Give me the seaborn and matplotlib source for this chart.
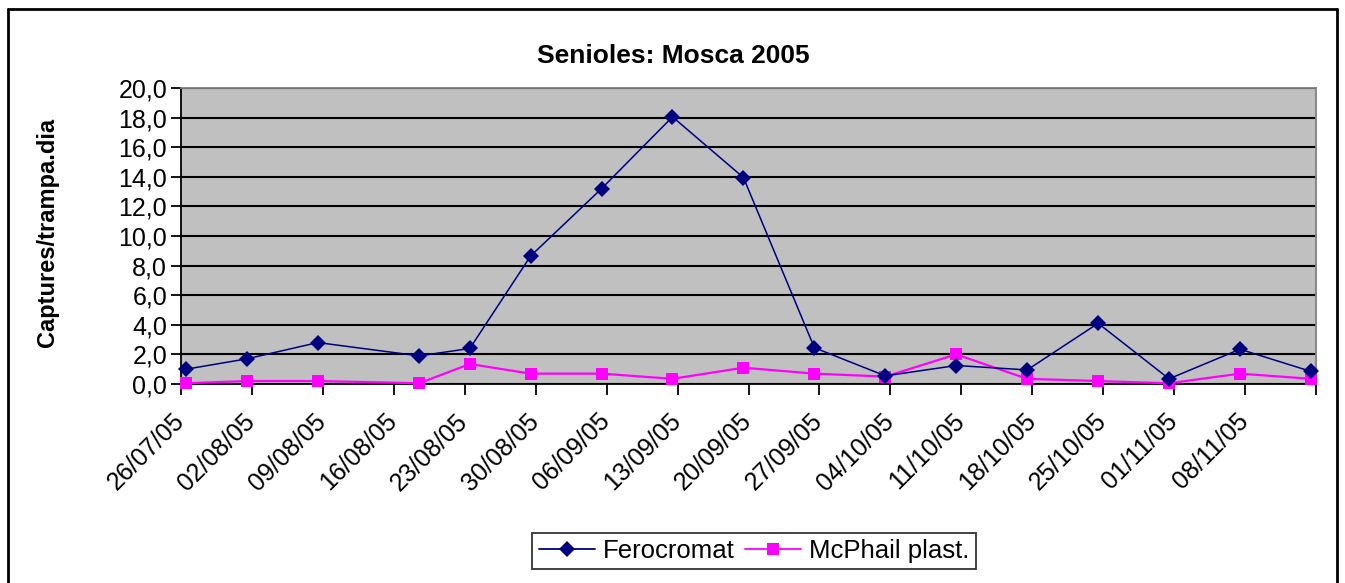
import matplotlib
matplotlib.use("Agg")
import matplotlib.pyplot as plt
from matplotlib.lines import Line2D
from matplotlib.transforms import ScaledTranslation
import seaborn as sns
import pandas as pd

# ---- data ----
dates = ["2005-07-26", "2005-08-01", "2005-08-08", "2005-08-18", "2005-08-23",
         "2005-08-29", "2005-09-05", "2005-09-12", "2005-09-19", "2005-09-26",
         "2005-10-03", "2005-10-10", "2005-10-17", "2005-10-24", "2005-10-31",
         "2005-11-07", "2005-11-14"]
ferocromat = [1.0, 1.7, 2.8, 1.9, 2.4, 8.65, 13.2, 18.05, 13.95, 2.45,
              0.55, 1.25, 0.95, 4.1, 0.35, 2.35, 0.85]
mcphail = [0.05, 0.2, 0.2, 0.05, 1.35, 0.7, 0.7, 0.35, 1.1, 0.7,
           0.5, 2.0, 0.35, 0.2, 0.05, 0.7, 0.35]
series_names = ["Ferocromat", "McPhail plast."]
title = "Senioles: Mosca 2005"
ylabel = "Captures/trampa.dia"
x_start, x_end = "2005-07-26", "2005-11-15"
y_ticks = [0, 2, 4, 6, 8, 10, 12, 14, 16, 18, 20]

# Excel plots each day at its centre (noon)
df = pd.DataFrame({
    "date": pd.to_datetime(dates * 2) + pd.Timedelta(hours=12),
    "value": ferocromat + mcphail,
    "series": [series_names[0]] * len(dates) + [series_names[1]] * len(dates),
})

sns.set_theme(style="white")
plt.rcParams["font.family"] = ["Liberation Sans", "DejaVu Sans"]
plt.rcParams["text.color"] = "black"
plt.rcParams["xtick.color"] = "black"
plt.rcParams["ytick.color"] = "black"
plt.rcParams["axes.labelcolor"] = "black"

fig = plt.figure(figsize=(13.45, 5.83), dpi=100)
W, H = 1345, 583
ax = fig.add_axes([181 / W, 1 - 384 / H, (1316 - 181) / W, (384 - 88) / H])
ax.set_facecolor("#C0C0C0")

palette = {series_names[0]: "#000080", series_names[1]: "#FF00FF"}
markers = {series_names[0]: "D", series_names[1]: "s"}

sub = df[df.series == series_names[1]]
sns.lineplot(data=sub, x="date", y="value", color=palette[series_names[1]],
             marker="s", markersize=9, markeredgewidth=0, linewidth=1.6,
             ax=ax, legend=False, zorder=4, clip_on=False)
sub = df[df.series == series_names[0]]
sns.lineplot(data=sub, x="date", y="value", color=palette[series_names[0]],
             marker="D", markersize=8, markeredgewidth=0, linewidth=1.1,
             ax=ax, legend=False, zorder=5, clip_on=False)

# axes
ax.set_xlim(pd.Timestamp(x_start), pd.Timestamp(x_end))
ax.set_ylim(0, 20)
ax.set_yticks(y_ticks)
ax.set_yticklabels([f"{v:.1f}".replace(".", ",") for v in y_ticks], fontsize=18)
ticks = pd.date_range(x_start, x_end, freq="7D")
ax.set_xticks(ticks)
ax.set_xticklabels([t.strftime("%d/%m/%y") for t in ticks[:-1]] + [""],
                   rotation=45, ha="right", rotation_mode="anchor", fontsize=18)
ax.tick_params(axis="x", direction="out", length=8, width=1.3, color="black",
               bottom=True, pad=10)
ax.tick_params(axis="y", direction="out", length=7, width=1.3, color="black",
               left=True, pad=3)
offset = ScaledTranslation(-9 / 100, 0, fig.dpi_scale_trans)
for lbl in ax.get_xticklabels():
    lbl.set_transform(lbl.get_transform() + offset)
ax.grid(axis="y", color="black", linewidth=1.5, zorder=1)
ax.grid(axis="x", visible=False)
ax.set_axisbelow(True)
ax.set_xlabel("")
ax.set_ylabel("")

for s in ["left", "bottom"]:
    ax.spines[s].set_color("black")
    ax.spines[s].set_linewidth(1.3)
for s in ["top", "right"]:
    ax.spines[s].set_color("#808080")
    ax.spines[s].set_linewidth(1.3)

fig.text(673 / W, 1 - 56 / H, title, ha="center", va="center",
         fontsize=19, fontweight="bold")

fig.text(48 / W, 1 - 347 / H, ylabel, rotation=90, ha="center",
         va="bottom", fontsize=17, fontweight="bold")

# legend
handles = [Line2D([0], [0], color=palette[n], marker=markers[n],
                  markersize=8 if n == series_names[0] else 9,
                  markeredgewidth=0, linewidth=1.3) for n in series_names]
leg = fig.legend(handles, series_names, loc="center",
                 bbox_to_anchor=(754 / W, 1 - 551 / H), ncol=2, fontsize=18.5,
                 frameon=True, fancybox=False, edgecolor="black",
                 handlelength=2.2, handletextpad=0.3, columnspacing=0.4,
                 borderpad=0.25)
leg.get_frame().set_linewidth(1.3)

# outer chart border
bx0, bx1, by = 8 / W, 1337 / W, 1 - 9 / H
fig.add_artist(Line2D([bx0, bx0], [0, by], color="black", lw=2, transform=fig.transFigure))
fig.add_artist(Line2D([bx0, bx1], [by, by], color="black", lw=2, transform=fig.transFigure))
fig.add_artist(Line2D([bx1, bx1], [0, by], color="black", lw=2, transform=fig.transFigure))

fig.savefig("out.png", dpi=100, facecolor="white")
